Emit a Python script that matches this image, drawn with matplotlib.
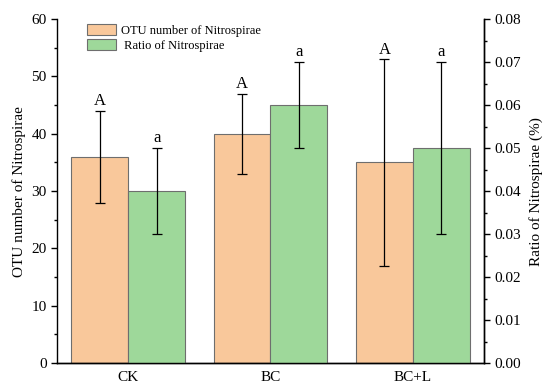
import matplotlib
matplotlib.use("Agg")
import matplotlib.pyplot as plt
import numpy as np

plt.rcParams['font.family'] = ['Liberation Serif', 'DejaVu Serif']

categories = ["CK", "BC", "BC+L"]
otu_values = [36, 40, 35]
otu_errors = [8, 7, 18]
ratio_values = [0.04, 0.06, 0.05]
ratio_errors = [0.01, 0.01, 0.02]
otu_letters = ["A", "A", "A"]
ratio_letters = ["a", "a", "a"]

orange = "#F9C89B"
green = "#9ED89A"
edge = "#6E6E6E"

fig = plt.figure(figsize=(5.5, 3.91), dpi=100)
ax = fig.add_axes([0.1036, 0.0716, 0.7764, 0.8794])
ax2 = ax.twinx()

x = np.arange(len(categories))
w = 0.4

b1 = ax.bar(x - w / 2, otu_values, w, color=orange, edgecolor=edge, linewidth=0.8,
            label="OTU number of Nitrospirae")
ax.errorbar(x - w / 2, otu_values, yerr=otu_errors, fmt="none", ecolor="black",
            elinewidth=0.9, capsize=3.5, capthick=0.9)
b2 = ax2.bar(x + w / 2, ratio_values, w, color=green, edgecolor=edge, linewidth=0.8,
             label="Ratio of Nitrospirae")
ax2.errorbar(x + w / 2, ratio_values, yerr=ratio_errors, fmt="none", ecolor="black",
             elinewidth=0.9, capsize=3.5, capthick=0.9)

for xi, v, e, t in zip(x, otu_values, otu_errors, otu_letters):
    ax.text(xi - w / 2, v + e + 0.3, t, ha="center", va="bottom", fontsize=12)
for xi, v, e, t in zip(x, ratio_values, ratio_errors, ratio_letters):
    ax2.text(xi + w / 2, v + e + 0.0004, t, ha="center", va="bottom", fontsize=12)

ax.set_xlim(-0.5, 2.5)
ax.set_ylim(0, 60)
ax2.set_ylim(0, 0.08)
ax.set_xticks(x)
ax.set_xticklabels(categories)
ax.set_yticks(np.arange(0, 61, 10))
ax.set_yticks(np.arange(5, 60, 10), minor=True)
ax2.set_yticks(np.arange(0, 0.081, 0.01))
ax2.set_yticks(np.arange(0.005, 0.08, 0.01), minor=True)
ax2.set_yticklabels([f"{v:.2f}" for v in np.arange(0, 0.081, 0.01)])

for a in (ax, ax2):
    a.spines["top"].set_visible(False)
    for s in a.spines.values():
        s.set_linewidth(1.0)
    a.tick_params(axis="both", which="major", direction="out", length=4, width=1.0,
                  labelsize=11)
    a.tick_params(axis="both", which="minor", direction="out", length=2.5, width=1.0)
ax.tick_params(axis="x", which="both", length=0, pad=6)
ax2.spines["left"].set_visible(False)

ax.set_ylabel("OTU number of Nitrospirae", fontsize=11, labelpad=4)
ax2.set_ylabel("Ratio of Nitrospirae (%)", fontsize=11, labelpad=6)

ax.legend([b1, b2], ["OTU number of Nitrospirae", " Ratio of Nitrospirae"],
          loc="upper left", bbox_to_anchor=(0.05, 1.01), frameon=False, fontsize=9,
          handlelength=2.3, handleheight=0.9, labelspacing=0.2, borderaxespad=0.3,
          handletextpad=0.4)

fig.savefig("out.png", dpi=100)
